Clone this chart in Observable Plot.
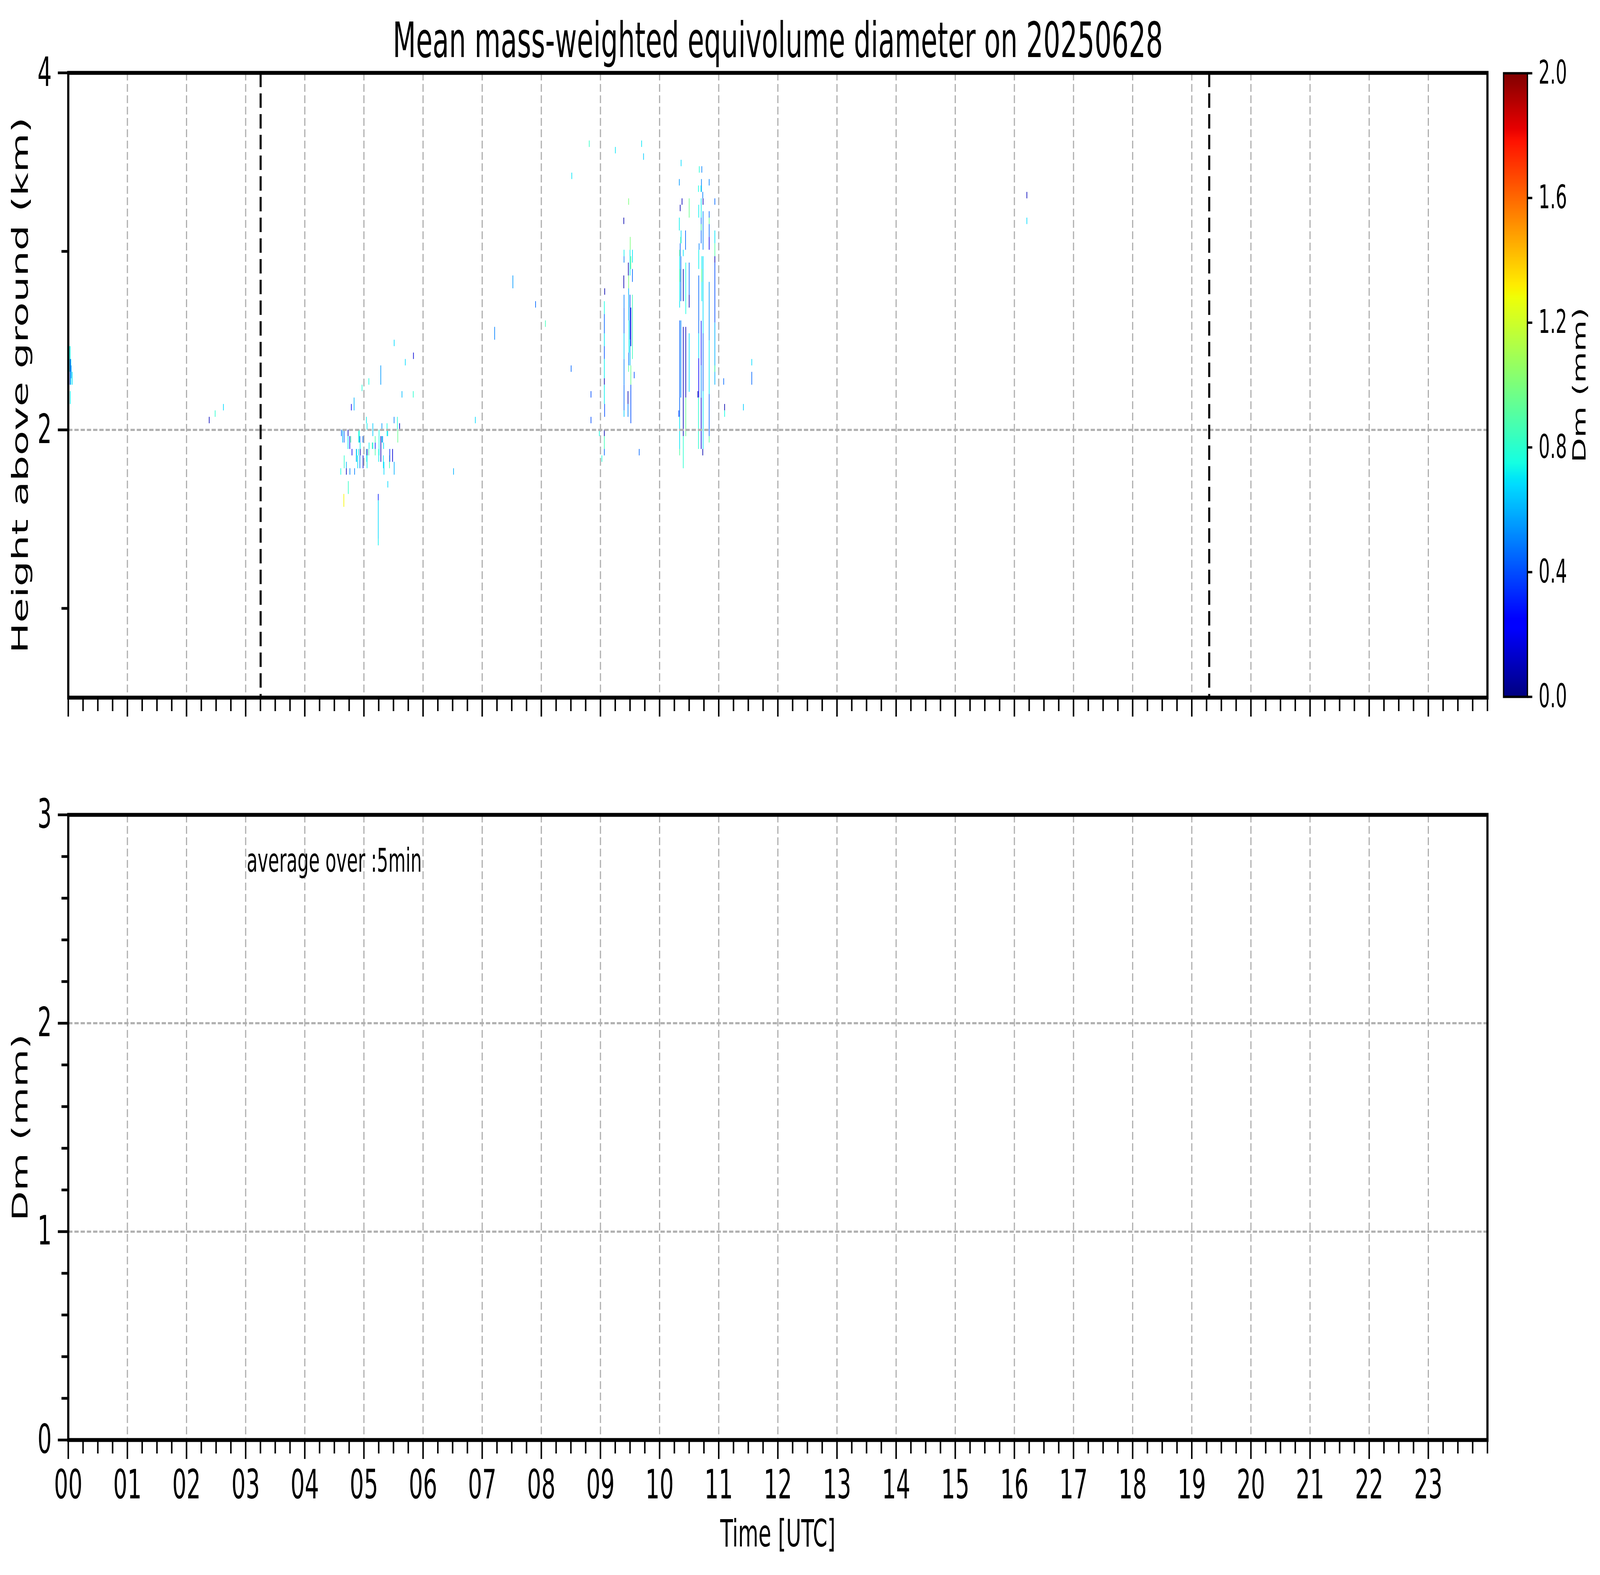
<!DOCTYPE html>
<html><head><meta charset="utf-8">
<script src="https://cdn.jsdelivr.net/npm/d3@7"></script>
<script src="https://cdn.jsdelivr.net/npm/@observablehq/plot@0.6"></script>
<style>
html,body{margin:0;padding:0;background:#fff;}
#fig{position:relative;width:7442px;height:4031px;background:#fff;font-family:"DejaVu Sans";overflow:hidden;transform-origin:0 0;}
#fig svg{position:absolute;}
</style></head><body><div id="fig"></div>
<script>
// ---------- DATA ----------
const titleText = "Mean mass-weighted equivolume diameter on 20250628";
const hourTicks = [0,1,2,3,4,5,6,7,8,9,10,11,12,13,14,15,16,17,18,19,20,21,22,23];
const hourLabels = ["00","01","02","03","04","05","06","07","08","09","10","11","12","13","14","15","16","17","18","19","20","21","22","23"];
const heightTicks = [2, 4];
const heightMinor = [1, 3];
const dmTicks = [0, 1, 2, 3];
const dmMinor = [0.2,0.4,0.6,0.8,1.2,1.4,1.6,1.8,2.2,2.4,2.6,2.8];
const cbTicks = [0.0, 0.4, 0.8, 1.2, 1.6, 2.0];
const sunLines = [3.253, 19.295];   // dashed vertical markers (h UTC)
const timeStep = 0.011;             // column width (h)

// cells: [time (h UTC), bottom (km), top (km), Dm (mm)]
const cellsNight = [
  [0.022,2.324,2.468,0.72],[0.028,2.396,2.468,0.78],[0.030,2.324,2.396,0.1],[0.028,2.252,2.324,0.4],
  [0.040,2.252,2.396,0.68],[0.046,2.288,2.360,0.55],[0.030,2.144,2.216,0.72],[0.063,2.252,2.324,0.7],
  [2.38,2.036,2.072,0.1],[2.48,2.072,2.108,0.8],[2.62,2.108,2.144,0.68]
];
const cellsMorning = [
  [5.508,2.468,2.504,0.68],[5.834,2.396,2.432,0.15],[5.696,2.36,2.396,0.68],[5.281,2.252,2.36,0.55],
  [5.08,2.252,2.288,0.75],[4.964,2.216,2.252,0.78],[5.64,2.18,2.216,0.62],[5.83,2.18,2.216,0.8],
  [4.83,2.108,2.18,0.6],[4.784,2.108,2.144,0.2],[5.039,2.036,2.072,0.72],[5.049,2.0,2.036,0.72],
  [5.147,1.964,2.036,0.65],[5.30,2.0,2.036,0.55],[5.387,1.964,2.036,0.75],[5.398,1.964,2.0,0.68],
  [5.506,2.036,2.072,0.5],[5.563,2.0,2.072,0.78],[5.60,2.0,2.036,0.1],[5.569,1.928,2.0,0.95],
  [4.615,1.964,2.0,0.45],[4.636,1.928,2.0,0.6],[4.661,1.928,2.0,0.45],[4.728,1.964,2.0,0.1],
  [4.728,1.892,1.964,0.7],[4.757,1.892,1.964,0.2],[4.774,1.928,1.964,0.9],[4.907,1.928,2.0,0.75],
  [4.92,1.928,2.0,0.78],[4.928,1.928,1.964,0.45],[4.932,1.892,1.928,0.72],[4.934,1.856,1.892,0.1],
  [4.98,1.928,1.964,0.45],[4.795,1.856,1.892,0.2],[4.868,1.82,1.892,0.5],[4.874,1.82,1.892,0.72],
  [4.891,1.784,1.856,0.7],[4.907,1.856,1.892,0.72],[4.928,1.784,1.856,0.5],[4.982,1.784,1.856,0.12],
  [5.043,1.82,1.892,0.72],[5.049,1.856,1.892,0.1],[5.049,1.784,1.856,0.72],[5.078,1.856,1.892,0.85],
  [5.083,1.892,1.928,0.72],[5.137,1.892,1.928,0.9],[5.147,1.892,1.928,0.7],[5.187,1.892,1.928,0.3],
  [5.187,1.856,1.892,0.88],[5.187,1.928,1.964,0.88],[5.247,1.82,1.892,0.72],[5.252,1.856,2.0,0.75],
  [5.283,1.82,1.964,0.1],[5.30,1.928,1.964,0.72],[5.312,1.928,1.964,0.45],[5.329,1.892,1.928,0.7],
  [5.325,1.784,1.856,0.7],[5.335,1.748,1.82,0.68],[5.429,1.784,1.856,0.85],[5.433,1.82,1.892,0.35],
  [5.481,1.82,1.892,0.15],[5.508,1.748,1.82,0.6],[4.663,1.784,1.856,0.8],[4.699,1.784,1.82,0.6],
  [4.605,1.748,1.784,0.75],[4.699,1.748,1.784,0.1],[4.759,1.748,1.784,0.5],[4.838,1.748,1.784,0.5],
  [4.732,1.64,1.712,0.82],[4.657,1.568,1.64,1.3],[5.40,1.676,1.712,0.68],[5.239,1.604,1.64,0.3],
  [5.239,1.388,1.604,0.68],[5.239,1.352,1.388,0.72],[6.512,1.748,1.784,0.6],[6.88,2.036,2.072,0.68]
];
const cellsForenoon = [
  [7.207,2.504,2.576,0.5],[7.515,2.792,2.864,0.55],[7.899,2.684,2.72,0.45],[8.066,2.576,2.612,0.85],
  [8.501,2.324,2.36,0.45],[8.511,3.404,3.44,0.7],[8.807,3.584,3.62,0.82],[8.836,2.18,2.216,0.4],
  [8.836,2.036,2.072,0.4],[8.978,1.964,2.0,0.75],
  [9.068,2.756,2.792,0.08],[9.062,2.648,2.72,0.75],[9.062,2.54,2.648,0.45],[9.062,2.468,2.54,0.7],
  [9.062,2.396,2.468,0.42],[9.062,2.288,2.396,0.72],[9.062,2.252,2.288,0.08],[9.062,2.144,2.252,0.72],
  [9.066,2.072,2.144,0.4],[9.062,1.964,2.0,0.08],[9.062,1.892,1.964,0.85],[9.062,1.856,1.892,0.45],
  [9.02,1.82,1.856,0.78],[9.249,3.548,3.584,0.7],[9.391,3.152,3.188,0.08],[9.473,3.26,3.296,1.0],
  [9.50,3.008,3.08,1.0],
  [9.395,2.972,3.008,0.72],[9.395,2.936,2.972,0.5],[9.391,2.792,2.864,0.08],[9.395,2.684,2.756,0.5],
  [9.395,2.54,2.684,0.45],[9.395,2.396,2.54,0.65],[9.395,2.252,2.396,0.5],[9.395,2.108,2.252,0.45],
  [9.395,2.072,2.108,0.65],[9.468,2.864,2.936,0.08],[9.473,2.792,2.864,1.0],[9.473,2.612,2.792,0.6],
  [9.478,2.432,2.612,0.72],[9.473,2.36,2.432,0.5],[9.473,2.324,2.36,0.9],[9.496,2.864,3.008,0.72],
  [9.496,2.504,2.756,0.4],[9.496,2.36,2.504,0.6],[9.51,2.9,2.972,0.95],[9.51,2.468,2.684,0.15],
  [9.51,2.252,2.36,0.95],[9.51,2.036,2.252,0.4],[9.537,2.936,3.008,0.7],[9.537,2.828,2.9,0.45],
  [9.537,2.396,2.756,0.85],[9.462,2.144,2.216,0.08],[9.462,2.072,2.144,0.5],[9.567,2.288,2.324,0.4],
  [9.652,1.856,1.892,0.45],[9.692,3.584,3.62,0.7],[9.725,3.512,3.548,0.65]
];
const cellsLate = [
  [10.36,3.476,3.512,0.68],[10.33,3.368,3.404,0.55],[10.376,3.26,3.296,0.1],[10.345,3.224,3.26,0.08],
  [10.33,3.116,3.188,0.72],[10.36,3.044,3.116,0.68],[10.352,3.044,3.08,0.9],[10.345,2.972,3.044,0.45],
  [10.335,2.972,3.008,0.9],[10.335,2.684,2.972,0.7],[10.34,2.828,2.9,0.9],[10.356,2.72,2.972,0.45],
  [10.397,2.972,3.008,0.7],[10.397,2.72,2.9,0.08],[10.435,3.008,3.116,0.45],[10.439,2.648,2.936,0.75],
  [10.335,2.072,2.612,0.45],[10.335,1.892,2.072,0.7],[10.335,1.856,1.892,0.9],[10.356,2.18,2.612,0.5],
  [10.397,1.964,2.576,0.1],[10.397,1.784,1.964,0.8],[10.439,2.18,2.576,0.1],[10.439,1.964,2.18,0.95],
  [10.497,3.188,3.296,0.95],[10.497,2.756,2.936,0.45],[10.497,2.684,2.756,0.1],[10.497,2.212,2.54,0.68],
  [10.32,2.072,2.108,0.4],
  [10.668,3.44,3.476,0.78],[10.71,3.44,3.476,0.5],[10.704,3.332,3.404,0.5],[10.654,3.332,3.368,0.75],
  [10.696,3.332,3.368,0.72],[10.727,3.296,3.332,0.5],[10.731,3.26,3.296,0.1],[10.70,3.188,3.296,0.72],
  [10.658,3.188,3.26,0.72],[10.70,3.044,3.188,0.45],[10.70,3.116,3.152,0.9],[10.731,3.008,3.224,0.5],
  [10.664,3.008,3.044,0.5],[10.658,2.9,3.008,0.72],[10.71,2.72,2.972,0.72],[10.71,2.828,2.9,0.95],
  [10.731,2.54,2.972,0.68],[10.731,2.216,2.54,0.45],[10.731,1.892,2.216,0.7],[10.727,1.856,1.892,0.08],
  [10.658,2.54,2.864,0.45],[10.658,2.4,2.54,0.68],[10.658,2.18,2.4,0.25],[10.70,2.36,2.61,0.3],
  [10.70,2.18,2.36,0.5],[10.70,1.892,2.18,0.15],[10.643,2.18,2.216,0.08],[10.654,1.892,2.18,0.8],
  [10.835,3.368,3.404,0.5],[10.835,3.188,3.224,0.45],[10.835,3.152,3.188,0.95],[10.835,3.08,3.152,0.45],
  [10.835,3.008,3.08,0.2],[10.835,2.5,2.828,0.55],[10.835,2.2,2.5,0.7],[10.835,1.964,2.2,0.45],
  [10.835,1.928,1.964,0.9],
  [10.931,3.26,3.296,0.45],[10.931,3.044,3.116,0.7],[10.931,2.972,3.044,0.9],[10.931,2.936,2.972,0.1],
  [10.931,2.6,2.936,0.4],[10.931,2.252,2.6,0.6],[10.931,2.324,2.36,0.9],
  [11.08,2.252,2.288,0.45],[11.096,2.108,2.144,0.08],[11.096,2.072,2.108,0.75],[11.414,2.108,2.144,0.65],
  [11.555,2.36,2.396,0.68],[11.555,2.252,2.324,0.45]
];
const cellsAfternoon = [
  [16.207,3.296,3.332,0.1],[16.207,3.152,3.188,0.68]
];
const allCells = [...cellsNight, ...cellsMorning, ...cellsForenoon, ...cellsLate, ...cellsAfternoon];

// ---------- STYLE HELPERS ----------
function jet(t) {
  t = Math.max(0, Math.min(1, t));
  const seg = (pts) => {
    for (let i = 1; i < pts.length; i++) {
      if (t <= pts[i][0]) { const [x0,y0] = pts[i-1], [x1,y1] = pts[i]; return y0 + (y1-y0)*(t-x0)/(x1-x0); }
    }
    return pts[pts.length-1][1];
  };
  const r = seg([[0,0],[0.35,0],[0.66,1],[0.89,1],[1,0.5]]);
  const g = seg([[0,0],[0.125,0],[0.375,1],[0.64,1],[0.91,0],[1,0]]);
  const b = seg([[0,0.5],[0.11,1],[0.34,1],[0.65,0],[1,0]]);
  return `rgb(${Math.round(r*255)},${Math.round(g*255)},${Math.round(b*255)})`;
}
const colorScale = {type: "linear", domain: [0, 2], interpolate: jet};
const quarterTicks = d3.range(0, 24.001, 0.25).filter(d => Math.abs(d - Math.round(d)) > 1e-6 || d === 24);
const gridStyle = {stroke: "#b0b0b0", strokeWidth: 5.5, strokeDasharray: "20,9"};
const FS = 104;
const W = 7442, H = 4031, L = 317, R = W - 6918;
const fmtHour = d => hourLabels[hourTicks.indexOf(d)];
const fig = document.getElementById("fig");

// ---------- TOP PANEL ----------
const topPlot = Plot.plot({
  width: W, height: 1900,
  marginLeft: L, marginRight: R, marginTop: 186, marginBottom: 1900 - 1785,
  x: {domain: [0, 24]},
  y: {domain: [0.5, 4]},
  color: colorScale,
  style: {fontFamily: "DejaVu Sans", background: "transparent", overflow: "visible"},
  marks: [
    Plot.rect(allCells, {x1: d => d[0], x2: d => d[0] + timeStep, y1: d => d[1], y2: d => d[2], fill: d => d[3]}),
    Plot.ruleX(hourTicks, gridStyle),
    Plot.ruleY(heightTicks, gridStyle),
    Plot.ruleX(sunLines, {stroke: "black", strokeWidth: 9.5, strokeDasharray: "37,16"}),
    Plot.axisX(hourTicks, {anchor: "bottom", tickSize: 49, strokeWidth: 7, tickFormat: () => "", label: null}),
    Plot.axisX(quarterTicks, {anchor: "bottom", tickSize: 35, strokeWidth: 7, tickFormat: () => "", label: null}),
    Plot.axisY(heightTicks, {anchor: "left", tickSize: 48, tickPadding: 29, strokeWidth: 7, fontSize: FS, tickFormat: d => String(d), label: null}),
    Plot.axisY(heightMinor, {anchor: "left", tickSize: 31, strokeWidth: 7, tickFormat: () => "", label: null}),
    Plot.frame({stroke: "black", strokeWidth: 10}),
    Plot.text([titleText], {text: d => d, frameAnchor: "top", dy: -41, lineAnchor: "bottom", fontSize: 125}),
    Plot.text(["Height above ground (km)"], {text: d => d, frameAnchor: "left", dx: -222, rotate: -90, textAnchor: "middle", lineAnchor: "middle", fontSize: FS})
  ]
});
topPlot.style.left = "0px"; topPlot.style.top = "0px";
fig.appendChild(topPlot);

// ---------- BOTTOM PANEL ----------
const botPlot = Plot.plot({
  width: W, height: 2131,
  marginLeft: L, marginRight: R, marginTop: 185, marginBottom: 2131 - 1785,
  x: {domain: [0, 24]},
  y: {domain: [0, 3]},
  style: {fontFamily: "DejaVu Sans", background: "transparent", overflow: "visible"},
  marks: [
    Plot.ruleX(hourTicks, gridStyle),
    Plot.ruleY(dmTicks, gridStyle),
    Plot.axisX(hourTicks, {anchor: "bottom", tickSize: 49, tickPadding: 27, strokeWidth: 7, fontSize: FS, tickFormat: fmtHour, label: null}),
    Plot.axisX(quarterTicks, {anchor: "bottom", tickSize: 35, strokeWidth: 7, tickFormat: () => "", label: null}),
    Plot.axisY(dmTicks, {anchor: "left", tickSize: 48, tickPadding: 29, strokeWidth: 7, fontSize: FS, tickFormat: d => String(d), label: null}),
    Plot.axisY(dmMinor, {anchor: "left", tickSize: 31, strokeWidth: 7, tickFormat: () => "", label: null}),
    Plot.frame({stroke: "black", strokeWidth: 10}),
    Plot.text(["average over :5min"], {text: d => d, frameAnchor: "top-left", dx: 830, dy: 145, lineAnchor: "bottom", textAnchor: "start", fontSize: 83}),
    Plot.text(["Time [UTC]"], {text: d => d, frameAnchor: "bottom", dy: 272, lineAnchor: "bottom", fontSize: 97}),
    Plot.text(["Dm (mm)"], {text: d => d, frameAnchor: "left", dx: -222, rotate: -90, textAnchor: "middle", lineAnchor: "middle", fontSize: 100})
  ]
});
botPlot.style.left = "0px"; botPlot.style.top = "1900px";
fig.appendChild(botPlot);

// ---------- COLORBAR ----------
const cbStep = 0.005;
const cbStops = d3.range(0, 2, cbStep);
const cbPlot = Plot.plot({
  width: 542, height: 1900,
  marginLeft: 93, marginRight: 542 - 204, marginTop: 187, marginBottom: 1900 - 1783,
  x: {domain: [0, 1], axis: null},
  y: {domain: [0, 2]},
  color: colorScale,
  style: {fontFamily: "DejaVu Sans", background: "transparent", overflow: "visible"},
  marks: [
    Plot.rect(cbStops, {x1: 0, x2: 1, y1: d => d, y2: d => Math.min(2, d + cbStep * 1.6), fill: d => d + cbStep / 2}),
    Plot.frame({stroke: "black", strokeWidth: 6}),
    Plot.axisY(cbTicks, {anchor: "right", tickSize: 22, tickPadding: 30, strokeWidth: 6, fontSize: 83, tickFormat: d3.format(".1f"), label: null}),
    Plot.text(["Dm (mm)"], {text: d => d, frameAnchor: "right", dx: 244, rotate: -90, textAnchor: "middle", lineAnchor: "middle", fontSize: 83})
  ]
});
cbPlot.style.left = "6900px"; cbPlot.style.top = "0px";
fig.appendChild(cbPlot);

// The window may be capped below 7442x4031: fit the whole figure into the viewport.
const vw = window.innerWidth || document.documentElement.clientWidth || W;
const vh = window.innerHeight || document.documentElement.clientHeight || H;
const sx = Math.min(1, vw / W), sy = Math.min(1, vh / H);
if (sx < 1 || sy < 1) {
  fig.style.transform = `scale(${sx}, ${sy})`;
  document.body.style.width = Math.floor(W * sx) + "px";
  document.body.style.height = Math.floor(H * sy) + "px";
  document.body.style.overflow = "hidden";
  document.documentElement.style.overflow = "hidden";
}
</script></body></html>
